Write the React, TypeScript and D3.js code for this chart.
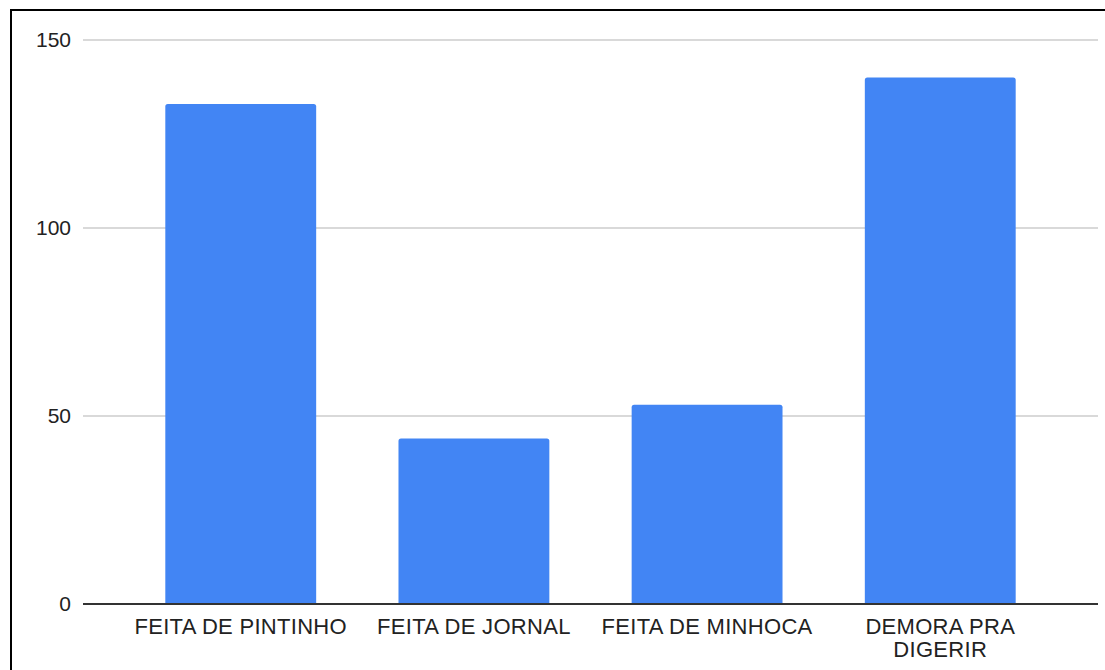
import React from "react";
import * as d3 from "d3";

const categories: string[][] = [
  ["FEITA DE PINTINHO"],
  ["FEITA DE JORNAL"],
  ["FEITA DE MINHOCA"],
  ["DEMORA PRA", "DIGERIR"],
];
const values: number[] = [133, 44, 53, 140];
const yTicks: number[] = [0, 50, 100, 150];

const W = 1105;
const H = 670;
const left = 83;
const right = 1098;
const top = 40;
const bottom = 604;
const FONT = "'Liberation Sans', Arial, sans-serif";

export default function App() {
  const keys = categories.map((c) => c.join(" "));
  const x = d3.scaleBand<string>().domain(keys).range([left, right]).padding(0.353);
  const y = d3.scaleLinear().domain([0, 150]).range([bottom, top]);

  return (
    <svg
      width={W}
      height={H}
      style={{ position: "absolute", left: 0, top: 0, background: "#fff" }}
    >
      <rect x={0} y={0} width={W} height={H} fill="#fff" />
      {/* frame */}
      <rect x={11} y={10} width={W + 20} height={H + 20} fill="none" stroke="#000" strokeWidth={2} />

      {/* gridlines and y labels */}
      {yTicks.map((t) => (
        <g key={t}>
          {t !== 0 && (
            <line x1={left} x2={right} y1={y(t)} y2={y(t)} stroke="#cccccc" strokeWidth={1.3} />
          )}
          <text
            x={71}
            y={y(t)}
            dy="0.35em"
            textAnchor="end"
            fontFamily={FONT}
            fontSize={21}
            fill="#222"
          >
            {t}
          </text>
        </g>
      ))}

      {/* bars */}
      {values.map((v, i) => {
        const bx = x(keys[i])!;
        const bw = x.bandwidth();
        const by = y(v);
        const r = 2.5;
        const path = `M${bx},${bottom} V${by + r} Q${bx},${by} ${bx + r},${by} H${bx + bw - r} Q${bx + bw},${by} ${bx + bw},${by + r} V${bottom} Z`;
        return <path key={keys[i]} d={path} fill="#4285f4" />;
      })}

      {/* baseline */}
      <line x1={left} x2={right} y1={bottom} y2={bottom} stroke="#333" strokeWidth={2} />

      {/* x labels */}
      {categories.map((lines, i) => (
        <text
          key={keys[i]}
          x={x(keys[i])! + x.bandwidth() / 2}
          y={634}
          textAnchor="middle"
          fontFamily={FONT}
          fontSize={22}
          letterSpacing={0.3}
          fill="#222"
        >
          {lines.map((l, j) => (
            <tspan key={j} x={x(keys[i])! + x.bandwidth() / 2} dy={j === 0 ? 0 : 22.7}>
              {l}
            </tspan>
          ))}
        </text>
      ))}
    </svg>
  );
}
